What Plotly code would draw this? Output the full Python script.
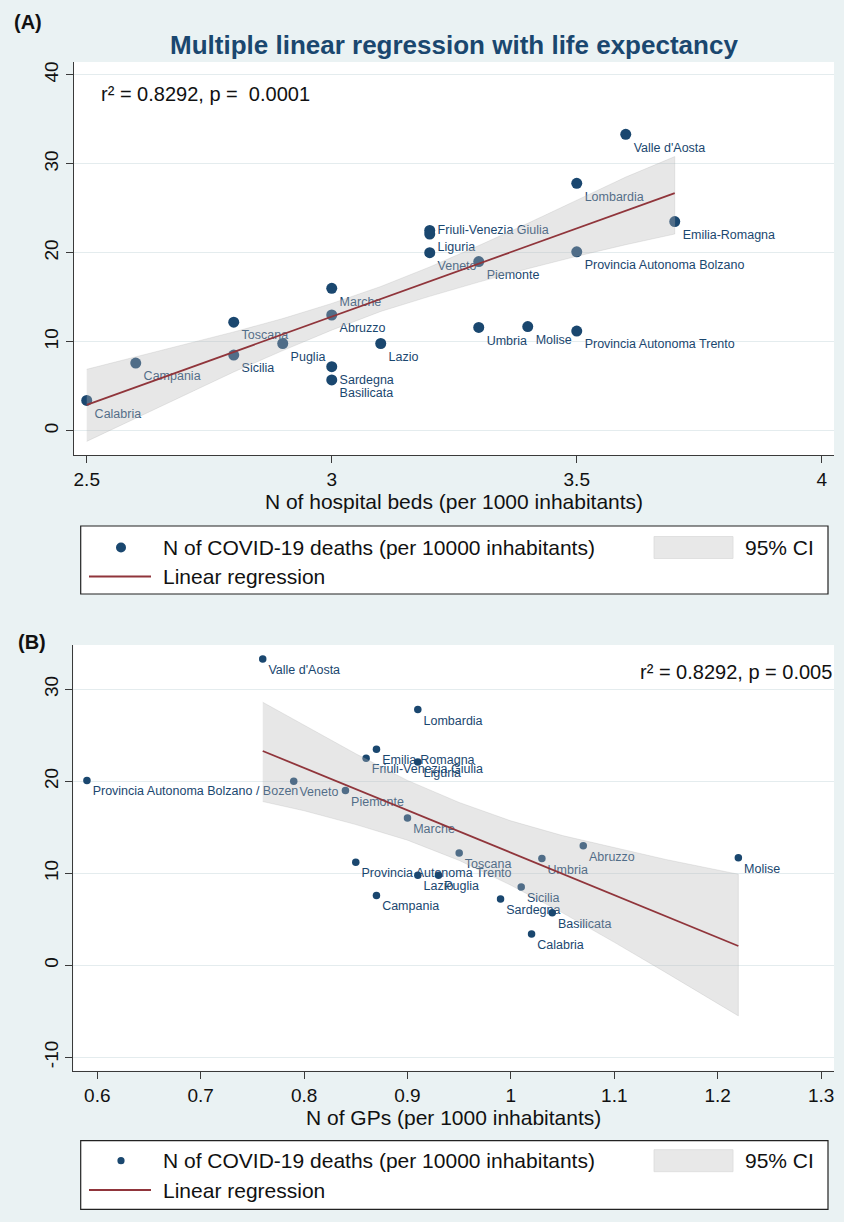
import plotly.graph_objects as go

W, H = 844, 1222

# ---------------- data ----------------
regions_a = ["Valle d'Aosta", "Lombardia", "Emilia-Romagna", "Friuli-Venezia Giulia", "Liguria",
             "Provincia Autonoma Bolzano", "Veneto", "Piemonte", "Marche", "Abruzzo", "Toscana",
             "Molise", "Umbria", "Provincia Autonoma Trento", "Lazio", "Puglia", "Sicilia",
             "Campania", "Sardegna", "Basilicata", "Calabria"]
regions_b = ["Valle d'Aosta", "Lombardia", "Emilia-Romagna", "Friuli-Venezia Giulia", "Liguria",
             "Provincia Autonoma Bolzano / Bozen", "Veneto", "Piemonte", "Marche", "Abruzzo", "Toscana",
             "Molise", "Umbria", "Provincia Autonoma Trento", "Lazio", "Puglia", "Sicilia",
             "Campania", "Sardegna", "Basilicata", "Calabria"]
deaths = [33.3, 27.8, 23.5, 22.5, 22.1, 20.1, 20.0, 19.0, 16.0, 13.0, 12.2,
          11.7, 11.6, 11.2, 9.8, 9.8, 8.5, 7.6, 7.2, 5.7, 3.4]
beds = [3.6, 3.5, 3.7, 3.2, 3.2, 3.5, 3.2, 3.3, 3.0, 3.0, 2.8,
        3.4, 3.3, 3.5, 3.1, 2.9, 2.8, 2.6, 3.0, 3.0, 2.5]
gps = [0.76, 0.91, 0.87, 0.86, 0.91, 0.59, 0.79, 0.84, 0.90, 1.07, 0.95,
       1.22, 1.03, 0.85, 0.91, 0.93, 1.01, 0.87, 0.99, 1.04, 1.02]

# regression line and 95% CI
fit_a_x = [2.5, 3.7]
fit_a_y = [2.9, 26.7]
ci_a_x = [2.5, 2.6, 2.7, 2.8, 2.9, 3.0, 3.1, 3.2, 3.3, 3.4, 3.5, 3.6, 3.7]
ci_a_lo = [-1.2, 1.4, 4.0, 6.6, 9.0, 11.3, 13.4, 15.1, 16.7, 18.2, 19.6, 20.9, 22.1]
ci_a_hi = [6.9, 8.3, 9.7, 11.1, 12.6, 14.3, 16.2, 18.4, 20.8, 23.3, 25.9, 28.5, 30.8]

fit_b_x = [0.76, 1.22]
fit_b_y = [23.3, 2.1]
ci_b_x = [0.76, 0.80, 0.85, 0.90, 0.95, 1.00, 1.05, 1.10, 1.15, 1.22]
ci_b_lo = [17.8, 16.8, 15.3, 13.6, 11.4, 8.7, 5.7, 2.5, -0.8, -5.5]
ci_b_hi = [28.6, 26.1, 23.0, 20.1, 17.7, 15.7, 14.1, 12.8, 11.5, 9.9]

ticks_a_x = [2.5, 3, 3.5, 4]
ticks_a_x_text = ["2.5", "3", "3.5", "4"]
ticks_a_y = [0, 10, 20, 30, 40]
ticks_a_y_text = ["0", "10", "20", "30", "40"]
ticks_b_x = [0.6, 0.7, 0.8, 0.9, 1.0, 1.1, 1.2, 1.3]
ticks_b_x_text = ["0.6", "0.7", "0.8", "0.9", "1", "1.1", "1.2", "1.3"]
ticks_b_y = [-10, 0, 10, 20, 30]
ticks_b_y_text = ["-10", "0", "10", "20", "30"]

# ---------------- style ----------------
NAVY = "#1A476F"
MAROON = "#90353B"
BG = "#EAF2F3"
CI_FILL = "rgba(185,185,185,0.34)"
FONT = "Liberation Sans"


def px(x):
    return x / W


def py(y):
    return 1 - y / H


fig = go.Figure()

# Panel A
pos_a = ["middle right" if r == "Friuli-Venezia Giulia" else "bottom right" for r in regions_a]
fig.add_trace(go.Scatter(
    x=beds, y=deaths, mode="markers+text", text=regions_a, textposition=pos_a,
    marker=dict(color=NAVY, size=11), textfont=dict(color=NAVY, size=12.5, family=FONT),
    cliponaxis=False, xaxis="x", yaxis="y", showlegend=False,
    name="N of COVID-19 deaths (per 10000 inhabitants)"))
fig.add_trace(go.Scatter(
    x=ci_a_x + ci_a_x[::-1], y=ci_a_hi + ci_a_lo[::-1], fill="toself", fillcolor=CI_FILL,
    line=dict(color="rgba(160,160,160,0.35)", width=0.6), mode="lines",
    xaxis="x", yaxis="y", showlegend=False, name="95% CI", hoverinfo="skip"))
fig.add_trace(go.Scatter(
    x=fit_a_x, y=fit_a_y, mode="lines", line=dict(color=MAROON, width=1.8),
    xaxis="x", yaxis="y", showlegend=False, name="Linear regression"))

# Panel B
fig.add_trace(go.Scatter(
    x=gps, y=deaths, mode="markers+text", text=regions_b, textposition="bottom right",
    marker=dict(color=NAVY, size=7.5), textfont=dict(color=NAVY, size=12.5, family=FONT),
    cliponaxis=False, xaxis="x2", yaxis="y2", showlegend=False,
    name="N of COVID-19 deaths (per 10000 inhabitants)"))
fig.add_trace(go.Scatter(
    x=ci_b_x + ci_b_x[::-1], y=ci_b_hi + ci_b_lo[::-1], fill="toself", fillcolor=CI_FILL,
    line=dict(color="rgba(160,160,160,0.35)", width=0.6), mode="lines",
    xaxis="x2", yaxis="y2", showlegend=False, name="95% CI", hoverinfo="skip"))
fig.add_trace(go.Scatter(
    x=fit_b_x, y=fit_b_y, mode="lines", line=dict(color=MAROON, width=1.8),
    xaxis="x2", yaxis="y2", showlegend=False, name="Linear regression"))

axis_common = dict(showline=True, linecolor="#3a3a3a", linewidth=1.3, ticks="outside",
                   ticklen=7, tickwidth=1.3, tickcolor="#3a3a3a", automargin=False,
                   tickfont=dict(size=19, color="#111", family=FONT), zeroline=False)
xcommon = dict(axis_common, showgrid=False)
ycommon = dict(axis_common, showgrid=True, gridcolor="#E4ECEE", gridwidth=1.2, tickangle=-90)

fig.update_layout(
    width=W, height=H, margin=dict(l=0, r=0, t=0, b=0),
    paper_bgcolor=BG, plot_bgcolor="white",
    font=dict(family=FONT, color="#111"),
    xaxis=dict(xcommon, domain=[px(74), px(834)], range=[2.474, 4.025],
               tickvals=ticks_a_x, ticktext=ticks_a_x_text, anchor="y",
               title=dict(text="N of hospital beds (per 1000 inhabitants)",
                          font=dict(size=21, color="#111"), standoff=3)),
    yaxis=dict(ycommon, domain=[py(455), py(62)], range=[-2.73, 41.43],
               tickvals=ticks_a_y, ticktext=ticks_a_y_text, anchor="x"),
    xaxis2=dict(xcommon, domain=[px(73.3), px(834)], range=[0.5768, 1.3125],
                tickvals=ticks_b_x, ticktext=ticks_b_x_text, anchor="y2",
                title=dict(text="N of GPs (per 1000 inhabitants)",
                           font=dict(size=21, color="#111"), standoff=0)),
    yaxis2=dict(ycommon, domain=[py(1070.7), py(645)], range=[-11.46, 34.82],
                tickvals=ticks_b_y, ticktext=ticks_b_y_text, anchor="x2"),
)

ann = []
ann.append(dict(text="<b>(A)</b>", x=px(12), y=py(22), xref="paper", yref="paper",
                xanchor="left", yanchor="middle", showarrow=False, font=dict(size=20, color="#111")))
ann.append(dict(text="<b>Multiple linear regression with life expectancy</b>", x=px(454), y=py(45),
                xref="paper", yref="paper", xanchor="center", yanchor="middle", showarrow=False,
                font=dict(size=26, color=NAVY)))
ann.append(dict(text="r² = 0.8292, p = \u00a00.0001", x=px(99), y=py(94), xref="paper", yref="paper",
                xanchor="left", yanchor="middle", showarrow=False, font=dict(size=20, color="#111")))
ann.append(dict(text="<b>(B)</b>", x=px(16), y=py(642), xref="paper", yref="paper",
                xanchor="left", yanchor="middle", showarrow=False, font=dict(size=20, color="#111")))
ann.append(dict(text="r² = 0.8292, p = 0.005", x=px(834), y=py(672), xref="paper", yref="paper",
                xanchor="right", yanchor="middle", showarrow=False, font=dict(size=20, color="#111")))

shapes = []


def legend_box(top, bottom, row1, row2, dot_r):
    shapes.append(dict(type="rect", xref="paper", yref="paper", x0=px(80.7), x1=px(828),
                       y0=py(bottom), y1=py(top), line=dict(color="#222", width=1.2),
                       fillcolor="white", layer="above"))
    shapes.append(dict(type="circle", xref="paper", yref="paper", x0=px(121 - dot_r), x1=px(121 + dot_r),
                       y0=py(row1 + dot_r), y1=py(row1 - dot_r), line=dict(width=0),
                       fillcolor=NAVY, layer="above"))
    shapes.append(dict(type="rect", xref="paper", yref="paper", x0=px(654), x1=px(733),
                       y0=py(row1 + 11), y1=py(row1 - 11), line=dict(color="#DADADA", width=0.8),
                       fillcolor="#E8E8E8", layer="above"))
    shapes.append(dict(type="line", xref="paper", yref="paper", x0=px(89), x1=px(151),
                       y0=py(row2), y1=py(row2), line=dict(color=MAROON, width=2), layer="above"))
    ann.append(dict(text="N of COVID-19 deaths (per 10000 inhabitants)", x=px(161), y=py(row1),
                    xref="paper", yref="paper", xanchor="left", yanchor="middle", showarrow=False,
                    font=dict(size=21, color="#111")))
    ann.append(dict(text="95% CI", x=px(816), y=py(row1), xref="paper", yref="paper",
                    xanchor="right", yanchor="middle", showarrow=False, font=dict(size=21, color="#111")))
    ann.append(dict(text="Linear regression", x=px(161), y=py(row2), xref="paper", yref="paper",
                    xanchor="left", yanchor="middle", showarrow=False, font=dict(size=21, color="#111")))


legend_box(526, 594, 547.5, 576.5, 5)
legend_box(1140.7, 1209.3, 1160.7, 1190, 3.6)

fig.update_layout(annotations=ann, shapes=shapes)

fig.write_html("out.html", config={"displayModeBar": False},
               post_script="document.body.style.margin='0';document.body.style.overflow='hidden';")
